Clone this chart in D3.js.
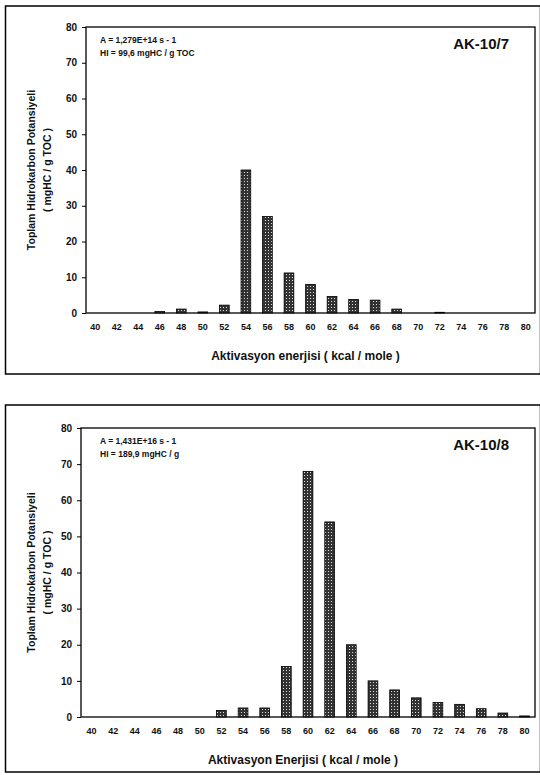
<!DOCTYPE html>
<html>
<head>
<meta charset="utf-8">
<script src="https://cdn.jsdelivr.net/npm/d3@7"></script>
<style>
  body { margin: 0; background: #fff; }
  svg { display: block; }
  text { font-family: "Liberation Sans", Arial, sans-serif; font-weight: bold; fill: #111; }
</style>
</head>
<body>
<div id="chart"></div>
<script>
// Activation energies (kcal/mole) on the x axis
const energies = [40, 42, 44, 46, 48, 50, 52, 54, 56, 58, 60, 62, 64, 66, 68, 70, 72, 74, 76, 78, 80];

// Hydrocarbon potential per energy bin (mgHC / g TOC)
const ak107Values = [0, 0, 0, 0.4, 1.1, 0.3, 2.2, 40, 27, 11.2, 8, 4.6, 3.8, 3.6, 1.1, 0, 0.2, 0, 0, 0, 0];
const ak108Values = [0, 0, 0, 0, 0, 0, 1.8, 2.5, 2.5, 14, 68, 54, 20, 10, 7.5, 5.3, 4, 3.5, 2.3, 1.1, 0.3];

const yTicks = [0, 10, 20, 30, 40, 50, 60, 70, 80];

const width = 540, height = 775;

const svg = d3.select('#chart').append('svg')
  .attr('width', width)
  .attr('height', height);

// Stippled fill like the scanned bars
const defs = svg.append('defs');
const pat = defs.append('pattern')
  .attr('id', 'stipple')
  .attr('width', 3).attr('height', 3)
  .attr('patternUnits', 'userSpaceOnUse');
pat.append('rect').attr('width', 3).attr('height', 3).attr('fill', '#333');
pat.append('rect').attr('x', 1).attr('y', 1).attr('width', 1).attr('height', 1).attr('fill', '#ddd');

// Outer frames of the two panels
svg.append('rect').attr('x', 5.5).attr('y', 6).attr('width', 535).attr('height', 368)
  .attr('fill', 'none').attr('stroke', '#000').attr('stroke-width', 1.5);
svg.append('rect').attr('x', 5.5).attr('y', 405).attr('width', 535).attr('height', 367)
  .attr('fill', 'none').attr('stroke', '#000').attr('stroke-width', 1.5);

const panels = [
  {
    values: ak107Values, left: 86, right: 535, top: 27, bottom: 313, outer: 0.2,
    name: 'AK-10/7',
    noteA: 'A = 1,279E+14  s - 1',
    noteHI: 'HI = 99,6 mgHC / g TOC',
    xTitle: 'Aktivasyon enerjisi ( kcal / mole )'
  },
  {
    values: ak108Values, left: 81, right: 535, top: 428, bottom: 717, outer: 0.26,
    name: 'AK-10/8',
    noteA: 'A = 1,431E+16  s - 1',
    noteHI: 'HI = 189,9 mgHC / g',
    xTitle: 'Aktivasyon Enerjisi ( kcal / mole )'
  }
];

panels.forEach(function(p) {
  const x = d3.scaleBand()
    .domain(energies)
    .range([p.left, p.right])
    .paddingInner(0.55)
    .paddingOuter(p.outer);

  const y = d3.scaleLinear()
    .domain([0, 80])
    .range([p.bottom, p.top]);

  const g = svg.append('g');

  // Plot box
  g.append('rect')
    .attr('x', p.left).attr('y', p.top)
    .attr('width', p.right - p.left).attr('height', p.bottom - p.top)
    .attr('fill', 'none').attr('stroke', '#000').attr('stroke-width', 1.3);

  // Bars
  g.selectAll('rect.bar')
    .data(energies.map(function(e, i) { return { e: e, v: p.values[i] }; }))
    .enter()
    .append('rect')
    .attr('class', 'bar')
    .attr('x', function(d) { return x(d.e); })
    .attr('y', function(d) { return y(d.v); })
    .attr('width', x.bandwidth())
    .attr('height', function(d) { return p.bottom - y(d.v); })
    .attr('fill', 'url(#stipple)')
    .attr('stroke', '#000')
    .attr('stroke-width', 0.8);

  // Y axis
  const yAxis = d3.axisLeft(y).tickValues(yTicks).tickSize(4).tickPadding(5);
  const ya = g.append('g')
    .attr('transform', 'translate(' + p.left + ',0)')
    .call(yAxis);
  ya.select('.domain').remove();
  ya.selectAll('text').style('font-size', '10px').style('font-family', '"Liberation Sans", Arial, sans-serif').style('font-weight', 'bold');

  // X axis (labels only)
  const xAxis = d3.axisBottom(x).tickSize(0).tickPadding(11);
  const xa = g.append('g')
    .attr('transform', 'translate(0,' + p.bottom + ')')
    .call(xAxis);
  xa.select('.domain').remove();
  xa.selectAll('text').style('font-size', '9px').style('font-family', '"Liberation Sans", Arial, sans-serif').style('font-weight', 'bold');

  // Axis titles
  g.append('text')
    .attr('x', (p.left + p.right) / 2 - 5)
    .attr('y', p.bottom + 47)
    .attr('text-anchor', 'middle')
    .style('font-size', '12px')
    .text(p.xTitle);

  const ymid = (p.top + p.bottom) / 2;
  g.append('text')
    .attr('transform', 'translate(35,' + ymid + ') rotate(-90)')
    .attr('text-anchor', 'middle')
    .style('font-size', '10.5px')
    .text('Toplam Hidrokarbon Potansiyeli');
  g.append('text')
    .attr('transform', 'translate(51,' + ymid + ') rotate(-90)')
    .attr('text-anchor', 'middle')
    .style('font-size', '10.5px')
    .text('( mgHC / g TOC )');

  // Notes and sample name
  g.append('text').attr('x', 100).attr('y', p.top + 16)
    .style('font-size', '8.5px').text(p.noteA);
  g.append('text').attr('x', 100).attr('y', p.top + 29)
    .style('font-size', '8.5px').text(p.noteHI);
  g.append('text').attr('x', 509).attr('y', p.top + 22)
    .attr('text-anchor', 'end')
    .style('font-size', '15px')
    .text(p.name);
});
</script>
</body>
</html>
